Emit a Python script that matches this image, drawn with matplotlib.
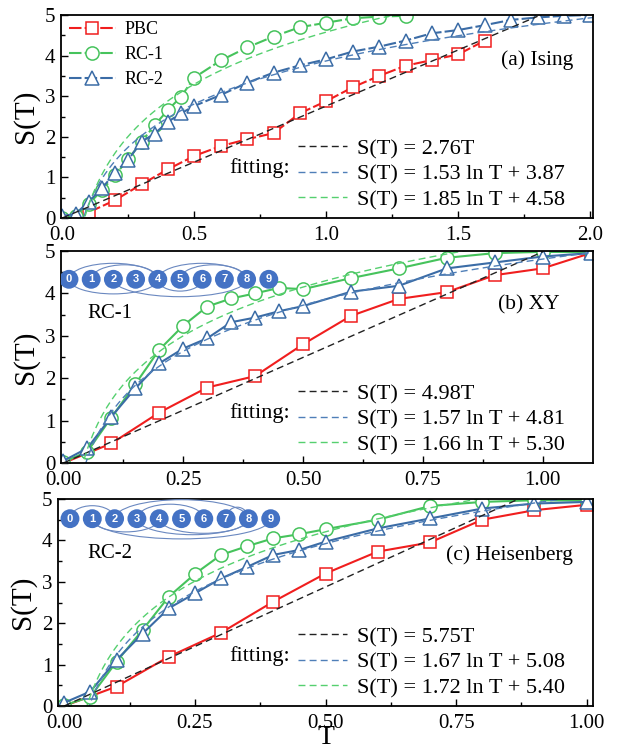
import matplotlib
matplotlib.use('Agg')
import matplotlib.pyplot as plt
import numpy as np
from matplotlib.patches import Arc
from matplotlib.ticker import MultipleLocator

plt.rcParams['font.family'] = ['Liberation Serif', 'DejaVu Serif']

# ---------------- data ----------------
# (a) Ising
T_a_pbc = [0.1, 0.2, 0.3, 0.4, 0.5, 0.6, 0.7, 0.8, 0.9, 1.0, 1.1, 1.2, 1.3, 1.4, 1.5, 1.6]
S_a_pbc = [0.14, 0.44, 0.83, 1.20, 1.53, 1.77, 1.94, 2.09, 2.58, 2.88, 3.22, 3.50, 3.75, 3.89, 4.03, 4.37]
T_a_rc1 = [0.0, 0.05, 0.1, 0.15, 0.2, 0.25, 0.3, 0.35, 0.4, 0.45, 0.5,
           0.6, 0.7, 0.8, 0.9, 1.0, 1.1, 1.2, 1.3]
S_a_rc1 = [0.0, 0.05, 0.35, 0.68, 1.06, 1.45, 1.88, 2.29, 2.66, 2.99, 3.46,
           3.88, 4.20, 4.47, 4.70, 4.81, 4.92, 4.96, 4.98]
T_a_rc2 = [0.0, 0.05, 0.1, 0.15, 0.2, 0.25, 0.3, 0.35, 0.4, 0.45, 0.5,
           0.6, 0.7, 0.8, 0.9, 1.0, 1.1, 1.2, 1.3, 1.4, 1.5, 1.6, 1.7, 1.8, 1.9, 2.0]
S_a_rc2 = [0.05, 0.10, 0.40, 0.73, 1.12, 1.44, 1.88, 2.08, 2.37, 2.58, 2.76,
           3.03, 3.33, 3.58, 3.76, 3.91, 4.10, 4.22, 4.37, 4.55, 4.63, 4.75, 4.88, 4.94, 4.98, 5.00]

# (b) XY
T_b_pbc = [0.0, 0.1, 0.2, 0.3, 0.4, 0.5, 0.6, 0.7, 0.8, 0.9, 1.0, 1.1]
S_b_pbc = [0.0, 0.46, 1.19, 1.78, 2.05, 2.80, 3.47, 3.87, 4.03, 4.43, 4.59, 4.95]
T_b_rc = [0.0, 0.05, 0.1, 0.15, 0.2, 0.25, 0.3, 0.35, 0.4, 0.45, 0.5,
          0.6, 0.7, 0.8, 0.9, 1.0, 1.1]
S_b_rc1 = [0.02, 0.27, 1.07, 1.86, 2.67, 3.24, 3.69, 3.88, 4.00, 4.13, 4.10,
           4.36, 4.59, 4.84, 4.95, 4.98, 4.97]
S_b_rc2 = [0.05, 0.35, 1.09, 1.76, 2.35, 2.70, 2.94, 3.32, 3.43, 3.58, 3.70,
           4.04, 4.18, 4.59, 4.73, 4.87, 4.95]

# (c) Heisenberg
T_c_pbc = [0.0, 0.1, 0.2, 0.3, 0.4, 0.5, 0.6, 0.7, 0.8, 0.9, 1.0]
S_c_pbc = [0.0, 0.47, 1.19, 1.77, 2.52, 3.20, 3.73, 3.95, 4.50, 4.73, 4.86]
T_c_rc = [0.0, 0.05, 0.1, 0.15, 0.2, 0.25, 0.3, 0.35, 0.4, 0.45, 0.5,
          0.6, 0.7, 0.8, 0.9, 1.0]
S_c_rc1 = [0.02, 0.22, 1.07, 1.84, 2.64, 3.19, 3.65, 3.86, 4.05, 4.15, 4.27,
           4.50, 4.83, 4.93, 4.97, 4.96]
S_c_rc2 = [0.08, 0.35, 1.11, 1.75, 2.36, 2.72, 3.08, 3.36, 3.65, 3.77, 3.97,
           4.29, 4.53, 4.77, 4.89, 4.93]

# fit coefficients: linear a*T ; log a*lnT + b
lin_a, log1_a, log2_a = 2.76, (1.53, 3.87), (1.85, 4.58)
lin_b, log1_b, log2_b = 4.98, (1.57, 4.81), (1.66, 5.30)
lin_c, log1_c, log2_c = 5.75, (1.67, 5.08), (1.72, 5.40)

series_labels = ['PBC', 'RC-1', 'RC-2']
panel_titles = ['(a) Ising', '(b) XY', '(c) Heisenberg']

# graph insets
nodes = list(range(10))
rc1_up = [(0, 4), (1, 4), (5, 8), (4, 8)]
rc1_down = [(0, 4), (2, 8), (4, 6)]
rc2_up = [(0, 2), (2, 8), (3, 6), (7, 8)]
rc2_down = [(1, 4), (1, 9), (3, 8), (4, 8)]

# ---------------- style ----------------
RED = '#f01e1e'
GREEN = '#46c35c'
BLUE = '#3b6ca6'
FBLUE = '#4f7fb8'
FGREEN = '#55d06f'

W, H = 623, 753
fig = plt.figure(figsize=(W / 100, H / 100), dpi=100)


def px_axes(l, r, t, b):
    return fig.add_axes([l / W, (H - b) / H, (r - l) / W, (b - t) / H])


ax_a = px_axes(61, 593, 15, 218)
ax_b = px_axes(61, 593, 251, 463)
ax_c = px_axes(58, 593, 499, 706)


def style_axis(ax, xlim, xmaj, xmin):
    ax.set_xlim(*xlim)
    ax.set_ylim(0, 5)
    ax.xaxis.set_major_locator(MultipleLocator(xmaj))
    ax.xaxis.set_minor_locator(MultipleLocator(xmin))
    ax.yaxis.set_major_locator(MultipleLocator(1))
    ax.yaxis.set_minor_locator(MultipleLocator(0.5))
    ax.tick_params(which='both', direction='in', labelsize=15, width=1.0)
    ax.tick_params(which='major', length=5)
    ax.tick_params(which='minor', length=3)
    ax.tick_params(axis='x', pad=5.5)
    ax.tick_params(axis='y', pad=4)
    for s in ax.spines.values():
        s.set_linewidth(1.3)
    ax.set_ylabel('S(T)', fontsize=21, labelpad=4)


def plot_panel(ax, Tp, Sp, Tr1, Sr1, Tr2, Sr2, lin, log1, log2, tmax, tlin, ls, pbc_skip):
    mk = dict(markerfacecolor='white', markeredgewidth=1.1)
    ev = list(range(1, len(Tp))) if pbc_skip else None
    l1, = ax.plot(Tp, Sp, color=RED, ls=ls, lw=1.5, marker='s', markersize=8.5,
                  markeredgecolor=RED, markevery=ev, label=series_labels[0], **mk)
    l2, = ax.plot(Tr1, Sr1, color=GREEN, ls=ls, lw=1.5, marker='o', markersize=9.5,
                  markeredgecolor=GREEN, label=series_labels[1], **mk)
    l3, = ax.plot(Tr2, Sr2, color=BLUE, ls=ls, lw=1.5, marker='^', markersize=10.5,
                  markeredgecolor=BLUE, label=series_labels[2], **mk)
    tl = np.linspace(0, tlin, 200)
    tg = np.linspace(0.02, tmax, 400)
    dash = (0, (5, 3))
    f1, = ax.plot(tl, lin * tl, color='#222222', lw=1.0, ls=dash)
    f2, = ax.plot(tg, log1[0] * np.log(tg) + log1[1], color=FBLUE, lw=1.0, ls=dash)
    f3, = ax.plot(tg, log2[0] * np.log(tg) + log2[1], color=FGREEN, lw=1.0, ls=dash)
    labs = ['S(T) = %.2fT' % lin,
            'S(T) = %.2f ln T + %.2f' % log1,
            'S(T) = %.2f ln T + %.2f' % log2]
    return [l1, l2, l3], [f1, f2, f3], labs


panels = [
    (ax_a, T_a_pbc, S_a_pbc, T_a_rc1, S_a_rc1, T_a_rc2, S_a_rc2, lin_a, log1_a, log2_a,
     2.01, 1.8, (0, (6, 1.5)), False, (-0.005, 2.01), 0.5, 0.25, 61, 593, 15, 218),
    (ax_b, T_b_pbc, S_b_pbc, T_b_rc, S_b_rc1, T_b_rc, S_b_rc2, lin_b, log1_b, log2_b,
     1.105, 1.0, '-', True, (-0.005, 1.105), 0.25, 0.125, 61, 593, 251, 463),
    (ax_c, T_c_pbc, S_c_pbc, T_c_rc, S_c_rc1, T_c_rc, S_c_rc2, lin_c, log1_c, log2_c,
     1.012, 0.87, '-', True, (-0.012, 1.012), 0.25, 0.125, 58, 593, 499, 706),
]

for k, p in enumerate(panels):
    (ax, Tp, Sp, Tr1, Sr1, Tr2, Sr2, lin, lg1, lg2, tmax, tlin, ls, skip,
     xlim, xmaj, xmin, L, R, Tt, B) = p
    style_axis(ax, xlim, xmaj, xmin)
    dl, fl, labs = plot_panel(ax, Tp, Sp, Tr1, Sr1, Tr2, Sr2, lin, lg1, lg2, tmax, tlin, ls, skip)
    wpx, hpx = R - L, B - Tt
    leg2 = ax.legend(fl, labs, loc='lower left', frameon=False, fontsize=16,
                     bbox_to_anchor=((298 - L) / wpx, 8 / hpx), borderaxespad=0,
                     borderpad=0, handlelength=2.2, handletextpad=0.45,
                     labelspacing=0.22)
    if k == 0:
        ax.add_artist(leg2)
        ax.legend(dl, series_labels, loc='upper left', frameon=False, fontsize=13,
                  bbox_to_anchor=(8 / wpx, 1 - 6 / hpx), borderaxespad=0, borderpad=0,
                  handlelength=2.6, handletextpad=0.45, labelspacing=0.45)
    ax.text((290 - L) / wpx, 50 / hpx, 'fitting:', transform=ax.transAxes,
            ha='right', va='center', fontsize=16)
    tx = [573, 560, 573][k]
    ty = [60, 305, 555][k]
    ax.text((tx - L) / wpx, (B - ty) / hpx, panel_titles[k], transform=ax.transAxes,
            ha='right', va='center', fontsize=15.5)

ax_c.set_xlabel('T', fontsize=20)
ax_c.xaxis.set_label_coords(0.5, -(738 - 706) / 207)
ax_c.xaxis.label.set_verticalalignment('center')


# ---------------- insets ----------------
def draw_inset(l, r, t, b, x0, y0, dx, up, down, name, name_xy):
    ia = px_axes(l, r, t, b)
    ia.set_xlim(-(x0 - l) / dx, (r - x0) / dx)
    ia.set_ylim(-(b - y0), y0 - t)
    ia.axis('off')
    ia.patch.set_alpha(0)
    for (i, j) in up:
        span = j - i
        h = 10 + 1.5 * span
        ia.add_patch(Arc(((i + j) / 2, 0), span, 2 * h, theta1=0, theta2=180,
                         color='#6a88c0', lw=0.8, zorder=1))
    for (i, j) in down:
        span = j - i
        h = 9 + 1.4 * span
        ia.add_patch(Arc(((i + j) / 2, 0), span, 2 * h, theta1=180, theta2=360,
                         color='#6a88c0', lw=0.8, zorder=1))
    ia.scatter(nodes, np.zeros(len(nodes)), s=185, color='#4472c4', zorder=3,
               edgecolors='none')
    for n in nodes:
        ia.text(n, 0, str(n), color='white', ha='center', va='center', fontsize=8,
                family='Liberation Sans', weight='bold', zorder=4)
    fig.text(name_xy[0] / W, 1 - name_xy[1] / H, name, fontsize=15, ha='left', va='center')


draw_inset(61, 300, 252, 305, 69, 279.3, 22.2, rc1_up, rc1_down, 'RC-1', (87, 313))
draw_inset(58, 300, 497, 550, 70, 518.7, 22.3, rc2_up, rc2_down, 'RC-2', (87, 553))

fig.savefig('out.png', dpi=100)
